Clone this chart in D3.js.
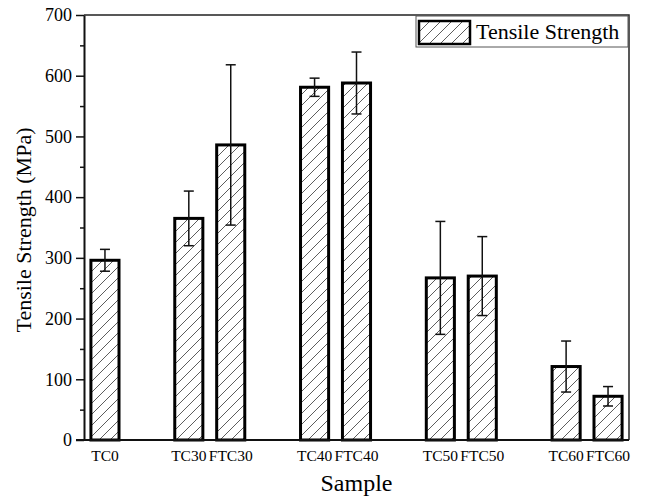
<!DOCTYPE html>
<html>
<head>
<meta charset="utf-8">
<script src="https://cdn.jsdelivr.net/npm/d3@7"></script>
<style>
  body { margin: 0; background: #fff; }
  svg text { font-family: "Liberation Serif", "DejaVu Serif", serif !important; }
</style>
</head>
<body>
<svg id="chart" width="647" height="500"></svg>
<script>
// data
const groups = [["TC0"], ["TC30", "FTC30"], ["TC40", "FTC40"], ["TC50", "FTC50"], ["TC60", "FTC60"]]
const samples = ["TC0", "TC30", "FTC30", "TC40", "FTC40", "TC50", "FTC50", "TC60", "FTC60"]
const strength = [296, 365, 486, 581, 588, 267, 270, 121, 72]
const errors = [18, 45, 132, 15, 51, 93, 65, 42, 16]
const yTicks = [0, 100, 200, 300, 400, 500, 600, 700]
const yMinorTicks = [50, 150, 250, 350, 450, 550, 650]

const width = 647, height = 500
const margin = {top: 15, right: 18, bottom: 60, left: 84}
const serif = '"Liberation Serif", "DejaVu Serif", serif'
const svg = d3.select('#chart')

// slots with an empty slot between groups
let slots = []
groups.forEach((g, i) => {
    if (i) slots.push('gap' + i)
    g.forEach(s => slots.push(s))
})

const x = d3.scaleBand().domain(slots)
    .range([margin.left, width - margin.right])
    .paddingInner(0.33).paddingOuter(0.165)
const y = d3.scaleLinear().domain([0, 700]).range([height - margin.bottom, margin.top])

//hatch pattern
const defs = svg.append('defs')
defs.append('pattern')
    .attr('id', 'hatch')
    .attr('patternUnits', 'userSpaceOnUse')
    .attr('width', 11).attr('height', 11)
    .append('path')
    .attr('d', 'M-1,12 L12,-1 M-3,3 L3,-3 M8,14 L14,8')
    .attr('stroke', '#333')
    .attr('stroke-width', 0.8)
    .attr('fill', 'none')

const data = samples.map((s, i) => ({name: s, value: strength[i], err: errors[i]}))

// bars
svg.append('g').selectAll('rect')
    .data(data)
    .join('rect')
    .attr('x', d => x(d.name))
    .attr('y', d => y(d.value))
    .attr('width', x.bandwidth())
    .attr('height', d => y(0) - y(d.value))
    .attr('fill', 'url(#hatch)')
    .attr('stroke', '#000')
    .attr('stroke-width', 3)

// error bars
const eb = svg.append('g').attr('stroke', '#111').attr('stroke-width', 1.5)
data.forEach(d => {
    let cx = x(d.name) + x.bandwidth() / 2
    eb.append('line').attr('x1', cx).attr('x2', cx).attr('y1', y(d.value + d.err)).attr('y2', y(d.value - d.err))
    eb.append('line').attr('x1', cx - 5).attr('x2', cx + 5).attr('y1', y(d.value + d.err)).attr('y2', y(d.value + d.err))
    eb.append('line').attr('x1', cx - 5).attr('x2', cx + 5).attr('y1', y(d.value - d.err)).attr('y2', y(d.value - d.err))
})

// frame: top and right thin
svg.append('path')
    .attr('d', `M${margin.left},${margin.top}H${width - margin.right}V${height - margin.bottom}`)
    .attr('fill', 'none').attr('stroke', '#222').attr('stroke-width', 1.5)

// y axis
const yAxis = svg.append('g')
    .attr('transform', `translate(${margin.left},0)`)
    .call(d3.axisLeft(y).tickValues(yTicks).tickSize(8).tickPadding(4).tickSizeOuter(0))
yAxis.attr('font-family', serif)
yAxis.select('.domain').attr('stroke', '#111').attr('stroke-width', 2)
yAxis.selectAll('.tick line').attr('stroke', '#111').attr('stroke-width', 1.5)
yAxis.selectAll('.tick text').attr('font-size', 18).attr('fill', '#000')
svg.append('g')
    .attr('transform', `translate(${margin.left},0)`)
    .call(d3.axisLeft(y).tickValues(yMinorTicks).tickSize(4).tickFormat(''))
    .call(g => g.select('.domain').remove())
    .selectAll('.tick line').attr('stroke', '#111').attr('stroke-width', 1.5)

// x axis
const xAxis = svg.append('g')
    .attr('transform', `translate(0,${height - margin.bottom})`)
    .call(d3.axisBottom(x).tickSize(0).tickPadding(10).tickSizeOuter(0)
        .tickFormat(d => d.startsWith('gap') ? '' : d))
xAxis.attr('font-family', serif)
xAxis.select('.domain').attr('stroke', '#111').attr('stroke-width', 2)
    .attr('d', `M${margin.left - 8},0H${width - margin.right}`)
xAxis.selectAll('.tick text').attr('font-size', 15.5).attr('fill', '#000')

// axis titles
svg.append('text')
    .attr('x', (margin.left + width - margin.right) / 2)
    .attr('y', 491)
    .attr('text-anchor', 'middle')
    .attr('font-size', 24)
    .attr('fill', '#000')
    .text('Sample')
svg.append('text')
    .attr('transform', `translate(31,230) rotate(-90)`)
    .attr('text-anchor', 'middle')
    .attr('font-size', 22)
    .attr('fill', '#000')
    .text('Tensile Strength (MPa)')

// legend
const lg = svg.append('g')
lg.append('rect')
    .attr('x', 416).attr('y', 16).attr('width', 212).attr('height', 31)
    .attr('fill', '#fff').attr('stroke', '#555').attr('stroke-width', 1)
lg.append('rect')
    .attr('x', 419).attr('y', 21).attr('width', 51).attr('height', 23)
    .attr('fill', 'url(#hatch)').attr('stroke', '#000').attr('stroke-width', 2.5)
lg.append('text')
    .attr('x', 476).attr('y', 39)
    .attr('font-size', 22)
    .attr('fill', '#000')
    .text('Tensile Strength')
</script>
</body>
</html>
